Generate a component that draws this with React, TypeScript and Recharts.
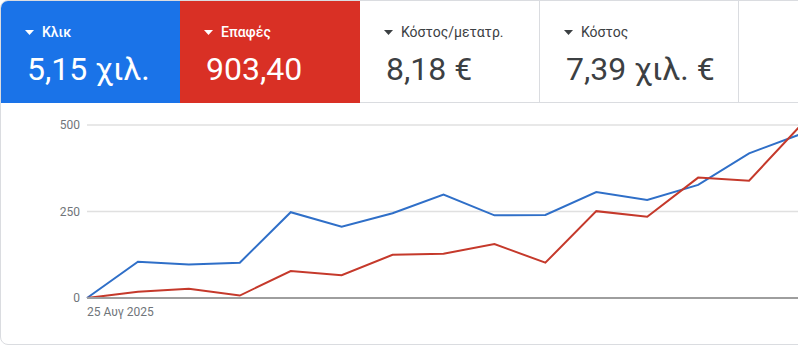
import React from "react";
import { LineChart, Line, XAxis, YAxis, CartesianGrid } from "recharts";

// Daily points, 25 Aug onwards
const days = [
  "25 Αυγ 2025", "26 Αυγ 2025", "27 Αυγ 2025", "28 Αυγ 2025", "29 Αυγ 2025",
  "30 Αυγ 2025", "31 Αυγ 2025", "1 Σεπ 2025", "2 Σεπ 2025", "3 Σεπ 2025",
  "4 Σεπ 2025", "5 Σεπ 2025", "6 Σεπ 2025", "7 Σεπ 2025", "8 Σεπ 2025",
];
const clicks = [0, 105, 97, 102, 248, 206, 245, 299, 239, 240, 306, 283, 327, 418, 473];
const contacts = [0, 18, 27, 7, 78, 66, 125, 128, 156, 102, 251, 235, 348, 339, 497];
const yTicks = [0, 250, 500];

const chartData = days.map((day, i) => ({ day, clicks: clicks[i], contacts: contacts[i] }));

const FONT = "Roboto, 'Noto Sans', sans-serif";

type Tile = { label: string; value: string; bg?: string; width: number };

const tiles: Tile[] = [
  { label: "Κλικ", value: "5,15 χιλ.", bg: "#1a73e8", width: 179 },
  { label: "Επαφές", value: "903,40", bg: "#d93025", width: 180 },
  { label: "Κόστος/μετατρ.", value: "8,18 €", width: 180 },
  { label: "Κόστος", value: "7,39 χιλ. €", width: 199 },
];

function Caret({ color }: { color: string }) {
  return (
    <svg width="9" height="5" style={{ position: "absolute", left: 24, top: 29 }}>
      <polygon points="0,0 9,0 4.5,5" fill={color} />
    </svg>
  );
}

function MetricTile({ t, left }: { t: Tile; left: number }) {
  const colored = !!t.bg;
  const fg = colored ? "#ffffff" : "#3c4043";
  return (
    <div
      style={{
        position: "absolute",
        left,
        top: 0,
        width: t.width,
        height: 102,
        background: t.bg ?? "#ffffff",
        borderRight: colored ? "none" : "1px solid #dadce0",
        borderBottom: colored ? "none" : "1px solid #dadce0",
        boxSizing: "border-box",
      }}
    >
      <Caret color={fg} />
      <div
        style={{
          position: "absolute",
          left: 41,
          top: 22,
          fontSize: 14,
          lineHeight: "18px",
          fontWeight: colored ? 500 : 400,
          color: fg,
          whiteSpace: "nowrap",
        }}
      >
        {t.label}
      </div>
      <div
        style={{
          position: "absolute",
          left: 26,
          top: 48,
          fontSize: 32,
          lineHeight: "40px",
          color: fg,
          whiteSpace: "nowrap",
        }}
      >
        {t.value}
      </div>
    </div>
  );
}

function DateTick(props: any) {
  const { x, y, payload } = props;
  return (
    <text x={x} y={y + 18} textAnchor="start" fontSize={12} fill="#70757a" fontFamily={FONT}>
      {payload.value}
    </text>
  );
}

export default function App() {
  let acc = 0;
  const lefts = tiles.map((t) => {
    const l = acc;
    acc += t.width;
    return l;
  });

  return (
    <div
      style={{
        position: "absolute",
        left: 0,
        top: 0,
        width: 798,
        height: 346,
        overflow: "hidden",
        background: "#ffffff",
        fontFamily: FONT,
      }}
    >
      {/* card frame, right edge runs off the picture */}
      <div
        style={{
          position: "absolute",
          left: 0,
          top: 0,
          width: 840,
          height: 345,
          border: "1px solid #dadce0",
          borderRadius: 8,
          overflow: "hidden",
          boxSizing: "border-box",
        }}
      >
        {tiles.map((t, i) => (
          <MetricTile key={t.label} t={t} left={lefts[i]} />
        ))}
        <div
          style={{
            position: "absolute",
            left: acc,
            top: 101,
            width: 200,
            height: 1,
            background: "#dadce0",
          }}
        />
      </div>

      {/* ── Trend chart ─────────────────────────── */}
      <div style={{ position: "absolute", left: 0, top: 105 }}>
        <LineChart
          width={800}
          height={241}
          data={chartData}
          margin={{ top: 20, right: 0, bottom: 18, left: 0 }}
        >
          <CartesianGrid vertical={false} stroke="#e0e0e0" strokeWidth={1.5} />
          <XAxis
            dataKey="day"
            ticks={[days[0]]}
            interval={0}
            tick={<DateTick />}
            tickLine={false}
            tickSize={0}
            tickMargin={0}
            height={30}
            axisLine={{ stroke: "#9e9e9e", strokeWidth: 2 }}
          />
          <YAxis
            domain={[0, 500]}
            ticks={yTicks}
            width={87}
            axisLine={false}
            tickLine={false}
            tickSize={0}
            tickMargin={7}
            tick={{ fontSize: 12, fill: "#70757a", fontFamily: FONT }}
          />
          <Line
            type="linear"
            dataKey="clicks"
            stroke="#2f6fc8"
            strokeWidth={2}
            dot={false}
            isAnimationActive={false}
          />
          <Line
            type="linear"
            dataKey="contacts"
            stroke="#c5392b"
            strokeWidth={2}
            dot={false}
            isAnimationActive={false}
          />
        </LineChart>
      </div>
    </div>
  );
}
